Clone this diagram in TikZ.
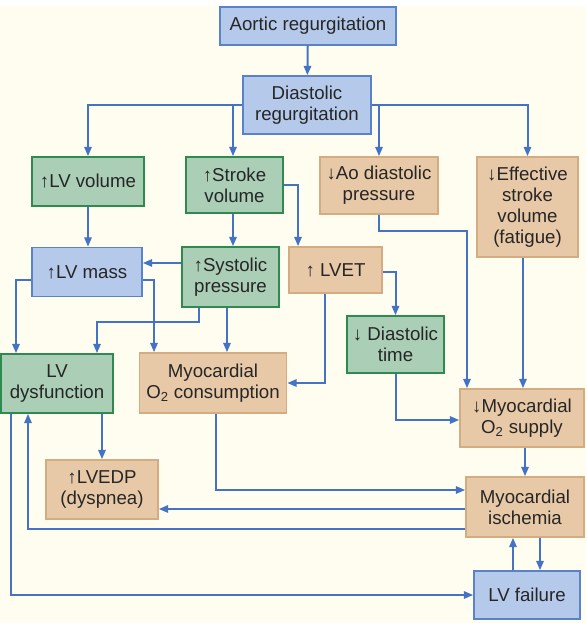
\documentclass[tikz,border=0pt]{standalone}
\usepackage{fontspec}
\setmainfont{Liberation Sans}
\usetikzlibrary{arrows.meta,calc}

\definecolor{cream}{HTML}{FFFDF0}
\definecolor{linkblue}{HTML}{4472C4}
\definecolor{bluefill}{HTML}{B5C9EA}
\definecolor{blueedge}{HTML}{5A82C9}
\definecolor{greenfill}{HTML}{AACFB6}
\definecolor{greenedge}{HTML}{2E8A4F}
\definecolor{tanfill}{HTML}{E8C9A7}
\definecolor{tanedge}{HTML}{D4AC82}
\definecolor{inktext}{HTML}{262626}

\tikzset{
	box/.style 2 args={draw, line width=1.2pt, align=center, inner sep=0pt,
		text=inktext, font=\fontsize{14}{15.75}\selectfont,
		minimum width=#1*0.75pt, minimum height=#2*0.75pt},
	bluebox/.style={fill=bluefill, draw=blueedge},
	greenbox/.style={fill=greenfill, draw=greenedge},
	tanbox/.style={fill=tanfill, draw=tanedge},
}

\begin{document}
\begin{tikzpicture}[x=0.75pt, y=-0.75pt, line width=1.5pt, draw=linkblue,
	arrows={-{Triangle[length=7pt,width=5.5pt]}}]
	\useasboundingbox (0,0) rectangle (586,630);
	\fill[cream] (0,6) rectangle (586,623);

	\node[box={176}{38}, bluebox] (AR) at (308,26) {Aortic regurgitation};
	\node[box={128}{58}, bluebox] (DR) at (307,105) {Diastolic\\regurgitation};

	\node[box={112}{49}, greenbox] (LVvol) at (88,181.5) {↑LV volume};
	\node[box={97}{56}, greenbox] (SV) at (234.5,185) {↑Stroke\\volume};
	\node[box={118}{57}, tanbox] (AoD) at (379,185.5) {↓Ao diastolic\\pressure};
	\node[box={101}{100}, tanbox] (ESV) at (527.5,207) {↓Effective\\stroke\\volume\\(fatigue)};

	\node[box={110}{49}, bluebox] (LVmass) at (87,272) {↑LV mass};
	\node[box={97}{60}, greenbox] (SP) at (230.5,277) {↑Systolic\\pressure};
	\node[box={93}{46}, tanbox] (LVET) at (335.5,270) {↑ LVET};
	\node[box={97}{57}, greenbox] (DT) at (395.5,344.5) {↓ Diastolic\\time};

	\node[box={112}{59}, greenbox] (LVD) at (57,383.5) {LV\\dysfunction};
	\node[box={147}{60}, tanbox] (MOC) at (213,383) {Myocardial\\O\textsubscript{2} consumption};
	\node[box={124}{58}, tanbox] (MOS) at (522,418) {↓Myocardial\\O\textsubscript{2} supply};

	\node[box={112}{59}, tanbox] (LVEDP) at (102,489.5) {↑LVEDP\\(dyspnea)};
	\node[box={118}{60}, tanbox] (MI) at (525,507) {Myocardial\\ischemia};
	\node[box={106}{48}, bluebox] (LVF) at (527,595) {LV failure};

	% top level
	\draw (AR) to (DR);
	\draw (DR.west) -| (LVvol.north);
	\draw (233,105 |- DR.west) to (SV.north -| 233,0);
	\draw (DR.east) -| (ESV.north);
	\draw (AoD.north |- DR.east) to (AoD.north);

	% second level
	\draw (LVvol.south) to (LVvol.south |- LVmass.north);
	\draw (SV.south -| 233,0) to (SP.north -| 233,0);
	\draw (SV.east) -| (LVET.north -| 298,0);
	\draw (SP.west |- 0,263) to (LVmass.east |- 0,263);
	\draw (LVET.east |- 0,272) -| (DT.north);
	\draw (LVET.south -| 325,0) |- (MOC.east);
	\draw (AoD.south) -- ++(0,16) -| (MOS.north -| 467,0);
	\draw (ESV.south -| 523,0) to (MOS.north -| 523,0);
	\draw (DT.south) |- (MOS.west |- 0,420);

	% third level
	\draw (LVmass.west |- 0,280) -| (LVD.north -| 16,0);
	\draw (LVmass.east |- 0,280) -| (MOC.north -| 154,0);
	\draw (SP.south -| 199,0) |- (97,322) -- (LVD.north -| 97,0);
	\draw (SP.south -| 227,0) to (MOC.north -| 227,0);

	% lower part
	\draw (LVD.south -| LVEDP.north) to (LVEDP.north);
	\draw (MOC.south -| 216,0) |- (MI.west |- 0,490);
	\draw (MOS.south -| 525,0) to (MI.north -| 525,0);
	\draw (MI.west |- 0,509) to (LVEDP.east |- 0,509);
	\draw (MI.west |- 0,529) -| (LVD.south -| 28,0);
	\draw (LVD.south -| 11,0) |- (LVF.west);
	\draw (LVF.north -| 513,0) to (MI.south -| 513,0);
	\draw (MI.south -| 540,0) to (LVF.north -| 540,0);

\end{tikzpicture}
\end{document}
